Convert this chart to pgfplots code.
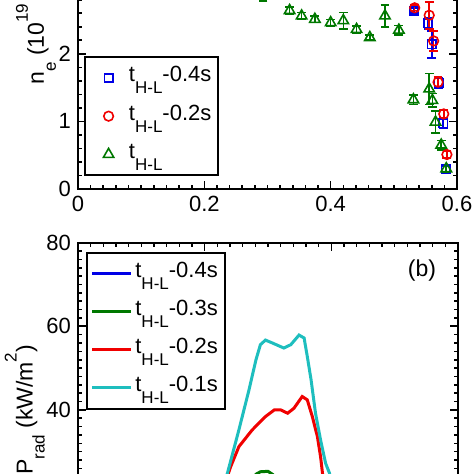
\documentclass[border=0pt]{standalone}
\usepackage{pgfplots}
\pgfplotsset{compat=1.18}
\usepackage{pgfplotstable}
\usepackage{fontspec}
\setmainfont{Liberation Sans}
\definecolor{cblue}{RGB}{0,0,230}
\definecolor{cgreen}{RGB}{0,120,0}
\definecolor{cred}{RGB}{240,0,0}
\definecolor{ccyan}{RGB}{30,190,190}
\newcommand{\lsub}[1]{\raisebox{-6pt}{\fontsize{8.5}{9}\selectfont #1}}
\newcommand{\lsup}[1]{\raisebox{8pt}{\fontsize{8.5}{9}\selectfont #1}}
\newcommand{\tHL}{t\smash{\raisebox{-6pt}{\fontsize{8.5}{9}\selectfont H-L}}}

\pgfplotstableread{
x y e
0.532 2.64 0.04
0.554 2.45 0.08
0.560 2.14 0.20
0.571 1.57 0.08
0.578 0.97 0.07
0.582 0.29 0.04
}\blueA
\pgfplotstableread{
x y e
0.533 2.68 0.04
0.556 2.57 0.20
0.563 2.19 0.15
0.570 1.58 0.08
0.579 1.11 0.06
0.584 0.51 0.05
}\redA
\pgfplotstableread{
x y e
0.293 2.86 0.08
0.335 2.64 0.05
0.354 2.56 0.05
0.375 2.51 0.05
0.400 2.46 0.05
0.420 2.49 0.12
0.441 2.36 0.05
0.462 2.24 0.04
0.486 2.56 0.16
0.508 2.35 0.07
0.531 1.32 0.07
0.556 1.48 0.23
0.561 1.31 0.10
0.566 0.99 0.16
0.575 0.65 0.07
0.583 0.30 0.05
}\greenA

\pgfplotstableread{
x y
0.00 1
0.20 6
0.27 15
0.30 18
0.34 16
0.38 9
0.45 3
0.60 1
}\blueB
\pgfplotstableread{
x y
0.00 1
0.20 8
0.26 20
0.281 24.6
0.288 25.2
0.300 25.3
0.307 24.6
0.33 21
0.38 12
0.45 4
0.60 1
}\greenB
\pgfplotstableread{
x y
0.00 2
0.15 5
0.21 15
0.230 21.5
0.241 26.4
0.254 31.2
0.275 35.2
0.296 38.4
0.310 40.0
0.320 40.0
0.331 39.2
0.341 40.4
0.354 43.2
0.362 42.4
0.370 38.4
0.378 33.6
0.383 28.8
0.386 24.9
0.39 20
0.40 15
0.45 5
0.60 2
}\redB
\pgfplotstableread{
x y
0.00 3
0.10 4
0.18 7
0.21 14
0.236 24.9
0.254 35.2
0.270 44.8
0.281 52.0
0.288 55.6
0.296 56.7
0.307 56.0
0.325 54.8
0.336 55.6
0.349 57.9
0.357 57.2
0.362 52.8
0.368 47.2
0.375 39.2
0.383 32.8
0.391 27.2
0.397 24.9
0.41 16
0.45 6
0.60 3
}\cyanB

\pgfplotsset{
  myaxis/.style={
    scale only axis,
    xmin=0, xmax=0.6, xtick={0,0.2,0.4,0.6}, minor x tick num=9,
    tick align=inside, major tick length=4pt, minor tick length=2pt,
    axis line style={line width=1pt},
    tick style={line width=0.8pt, black},
    /pgf/number format/assume math mode=true,
    tick label style={font=\fontsize{11}{13}\selectfont},
    label style={font=\fontsize{11.5}{13}\selectfont},
    legend cell align=left,
    legend style={draw=black, line width=1pt, inner xsep=2pt, inner ysep=2.9pt,
      row sep=4.3pt, nodes={inner sep=1.5pt, text height=7.9pt, text depth=3.9pt},
      font=\fontsize{11}{13}\selectfont},
  },
  ebar/.style={error bars/.cd, y dir=both, y explicit,
    error bar style={line width=0.8pt},
    error mark options={rotate=90, line width=0.8pt, mark size=2.2pt}, /pgfplots/.cd},
}

\begin{document}
\begin{tikzpicture}
\useasboundingbox (0pt,0pt) rectangle (237pt,237pt);
\clip (0pt,0pt) rectangle (237pt,237pt);
\begin{axis}[myaxis, at={(39pt,142.5pt)}, anchor=south west,
  width=189.5pt, height=169pt, ymin=0, ymax=5, ytick={0,1,2,3,4,5}, minor y tick num=4,
  ylabel={n\lsub{e} (10\lsup{19} m\lsup{-3})}, ylabel shift=-5.5pt,
  legend style={at={(0.0158,0.0385)}, anchor=south west},
  legend image code/.code={\draw[#1, draw=none, mark repeat=2, mark phase=2]
    plot coordinates {(0pt,0pt) (9.8pt,0pt) (18.5pt,0pt)};}]
\addlegendimage{cblue, mark=square, mark size=2.1pt, line width=0.8pt}
\addlegendentry{\tHL-0.4s}
\addlegendimage{cred, mark=o, mark size=2.4pt, line width=0.8pt}
\addlegendentry{\tHL-0.2s}
\addlegendimage{cgreen, mark=triangle, mark size=3pt, line width=0.8pt}
\addlegendentry{\tHL}
\addplot[forget plot, cblue, only marks, mark=square, mark size=2.1pt, line width=0.8pt,
  ebar] table[x=x, y=y, y error=e] {\blueA};
\addplot[forget plot, cred, only marks, mark=o, mark size=2.4pt, line width=0.8pt,
  ebar] table[x=x, y=y, y error=e] {\redA};
\addplot[forget plot, cgreen, only marks, mark=triangle, mark size=3pt, line width=0.8pt,
  ebar] table[x=x, y=y, y error=e] {\greenA};
\end{axis}

\begin{axis}[myaxis, at={(39pt,115.65pt)}, anchor=north west,
  width=190pt, height=167.2pt, ymin=0, ymax=80, ytick={0,20,...,80}, minor y tick num=9,
  ylabel={P\lsub{rad} (kW/m\lsup{2})}, ylabel shift=-6pt,
  legend style={at={(0.021,0.973)}, anchor=north west},
  legend image code/.code={\draw[#1] (0pt,0pt) -- (19.2pt,0pt);}]
\addplot[cblue, line width=1.5pt] table[x=x, y=y] {\blueB};
\addlegendentry{\tHL-0.4s}
\addplot[cgreen, line width=1.5pt] table[x=x, y=y] {\greenB};
\addlegendentry{\tHL-0.3s}
\addplot[cred, line width=1.5pt] table[x=x, y=y] {\redB};
\addlegendentry{\tHL-0.2s}
\addplot[ccyan, line width=1.5pt] table[x=x, y=y] {\cyanB};
\addlegendentry{\tHL-0.1s}
\node[font=\fontsize{11.5}{13}\selectfont, anchor=center] at (axis cs:0.543,73.4) {(b)};
\end{axis}
\end{tikzpicture}
\end{document}
